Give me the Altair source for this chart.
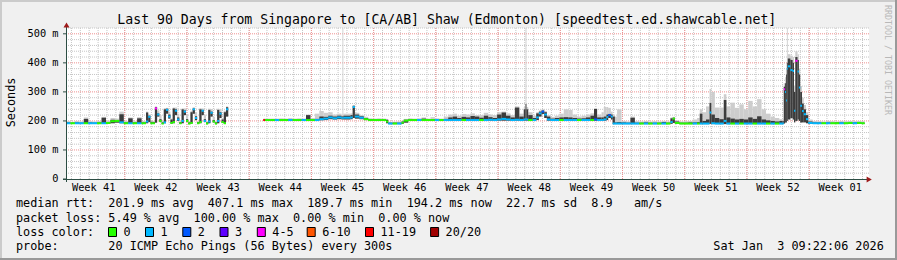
import altair as alt
import pandas as pd

MONO = "DejaVu Sans Mono"

# ---- data (x = days since start of the 90-day window) ----
DAY = [
    0.0, 0.5, 1.0, 1.5, 2.0, 2.5, 3.0, 3.5, 4.0, 4.5, 5.0, 5.5, 6.0, 6.5, 7.0, 7.5, 8.0, 8.5, 9.0, 9.25, 9.5,
    9.75, 10.0, 10.25, 10.5, 10.75, 11.0, 11.25, 11.5, 11.75, 12.0, 12.25, 12.5, 12.75, 13.0, 13.25, 13.5, 13.75,
    14.0, 14.25, 14.5, 14.75, 15.0, 15.25, 15.5, 15.75, 16.0, 16.25, 16.5, 16.75, 17.0, 17.25, 17.5, 17.75, 18.0, 18.25,
    22.2, 22.4, 23.0, 23.5, 24.0, 24.5, 25.0, 25.5, 26.0, 26.5, 27.0, 27.5, 28.0, 28.5,
    29.0, 29.5, 30.0, 30.5, 31.0, 31.1, 31.2, 31.5, 32.0, 32.25, 32.5, 33.0, 33.5,
    34.0, 34.5, 35.0, 35.5, 36.0, 36.25, 36.75, 37.25, 37.75, 38.0,
    38.5, 39.0, 39.5, 40.0, 40.5, 41.0, 41.5, 42.0, 42.5, 43.0, 43.5, 44.0, 44.5, 45.0, 45.5, 46.0, 46.5, 47.0, 47.5, 48.0,
    48.5, 49.0, 49.5, 50.0, 50.5, 51.0, 51.5, 51.7, 51.8, 52.0, 52.5, 52.9, 53.2, 53.5, 53.8, 54.1, 54.5, 55.0, 55.5, 56.0,
    56.5, 57.0, 57.5, 58.0, 58.5, 59.0, 59.4, 59.75, 60.25, 60.5, 60.8, 61.0, 61.3, 61.5, 61.75,
    62.0, 62.5, 63.0, 63.5, 64.0, 64.5, 65.0, 65.5, 66.0, 66.5, 67.0, 67.5, 68.0, 68.25, 68.5, 69.0, 69.5, 70.0, 70.5, 71.0,
    71.3, 71.6, 72.0, 72.4, 72.6, 73.0, 73.5, 74.0, 74.3, 74.75, 75.25, 75.75, 76.25, 76.75, 77.25, 77.75, 78.25, 78.75,
    79.25, 79.75, 80.25,
    80.6, 80.75, 80.9, 81.0, 81.1, 81.2, 81.5, 81.75, 81.9, 82.05, 82.3, 82.45, 82.6, 82.8, 83.0, 83.25, 83.5,
    84.0, 84.5, 85.0, 85.5, 86.0, 86.5, 87.0, 87.5, 88.0, 88.5, 89.0, 89.5, 89.85,
]
MEDIAN = [
    192, 192, 192, 192, 192, 192, 192, 192, 192, 193, 199, 200, 195, 192, 192, 192, 192, 192, 198, 214, 192,
    192, 243, 222, 200, 191, 195, 238, 215, 193, 196, 235, 205, 192, 200, 232, 200, 191,
    193, 240, 210, 192, 196, 235, 200, 191, 198, 228, 198, 191, 200, 225, 196, 192, 240, None,
    203, 203, 203, 203, 203, 203, 203, 203, 203, 203, 203, 203, 203, 206,
    208, 212, 209, 212, 210, 210, 211, 211, 212, 248, 215, 211, 206,
    203, 203, 203, 203, 198, 191, 191, 191, 194, 201,
    203, 203, 203, 203, 203, 203, 203, 203, 203, 203, 203, 203, 203, 203, 203, 203, 203, 203, 204, 203,
    205, 207, 205, 203, 204, 203, 205, 206, 205, 203, 203, 212, 226, 232, 222, 205, 203, 203, 203, 203,
    203, 203, 203, 203, 203, 203, 205, 203, 203, 205, 213, 220, 215, 191, 191,
    191, 191, 191, 191, 191, 191, 191, 191, 191, 191, 191, 191, 196, 208, 193, 191, 191, 191, 191, 191,
    191, 191, 191, 229, 192, 191, 191, 200, 191, 191, 191, 191, 191, 191, 191, 191, 191, 191,
    191, 191, 191,
    191, 309, 300, 270, 380, 388, 375, 372, 235, 407, 370, 315, 252, 234, 223, 206, 193,
    192, 192, 192, 192, 192, 192, 192, 192, 193, 192, 193, 192, None,
]
LOSS = [
    1, 0, 1, 1, 0, 1, 1, 0, 1, 0, 0, 0, 1, 0, 1, 0, 1, 0, 1, 1, 0,
    0, 4, 1, 0, 0, 1, 1, 1, 0, 0, 1, 1, 0, 1, 1, 0, 0,
    0, 1, 1, 0, 0, 1, 1, 0, 1, 1, 0, 0, 1, 1, 0, 0, 1, None,
    6, 0, 0, 1, 0, 0, 1, 0, 0, 1, 0, 0, 1, 1,
    1, 1, 1, 1, 1, 1, 1, 1, 1, 1, 1, 1, 0,
    0, 0, 0, 0, 0, 1, 0, 1, 0, 0,
    0, 0, 1, 0, 0, 0, 1, 0, 1, 1, 1, 1, 0, 1, 1, 1, 0, 1, 1, 1,
    1, 1, 1, 1, 1, 1, 1, 1, 1, 0, 1, 1, 1, 2, 1, 1, 1, 1, 0, 1,
    1, 1, 0, 1, 1, 0, 2, 1, 1, 1, 1, 2, 1, 1, 1,
    1, 1, 1, 1, 1, 0, 1, 0, 1, 0, 1, 0, 1, 0, 0, 0, 0, 0, 1, 0,
    1, 1, 1, 1, 1, 1, 1, 1, 1, 0, 1, 0, 1, 1, 0, 1, 1, 0,
    1, 0, 1,
    1, 4, 1, 1, 1, 1, 1, 1, 1, 4, 1, 1, 1, 1, 1, 1, 1,
    1, 1, 0, 1, 0, 0, 1, 0, 0, 1, 0, 0, None,
]
SMOKE_LO = [
    191, 191, 191, 191, 191, 191, 191, 191, 191, 191, 192, 194, 192, 191, 191, 191, 191, 191, 192, 196, 191,
    190, 194, 215, 197, 190, 192, 225, 208, 191, 192, 220, 200, 190, 192, 220, 197, 189,
    191, 225, 203, 190, 192, 220, 197, 189, 192, 215, 195, 189, 192, 210, 193, 190, 215, None,
    201, 201, 201, 201, 201, 201, 201, 201, 201, 201, 201, 201, 201, 202,
    203, 206, 205, 206, 205, 205, 205, 205, 206, 210, 208, 206, 203,
    201, 201, 201, 201, 192, 189, 189, 189, 190, 194,
    201, 201, 201, 201, 201, 201, 201, 201, 201, 201, 201, 201, 201, 201, 201, 201, 201, 201, 201, 201,
    201, 201, 201, 201, 201, 201, 201, 201, 201, 201, 201, 203, 215, 224, 210, 201, 201, 201, 201, 201,
    201, 201, 201, 201, 201, 201, 201, 201, 201, 201, 203, 210, 205, 189, 189,
    189, 189, 189, 189, 189, 189, 189, 189, 189, 189, 189, 189, 190, 193, 190, 189, 189, 189, 189, 189,
    189, 189, 189, 190, 189, 189, 189, 189, 189, 189, 189, 189, 189, 189, 189, 189, 189, 189,
    189, 189, 189,
    189, 191, 195, 195, 200, 205, 210, 205, 195, 200, 205, 200, 195, 195, 195, 192, 190,
    190, 190, 190, 190, 190, 190, 190, 190, 190, 190, 190, 190, None,
]
SMOKE_HI = [
    195, 194, 195, 194, 207, 195, 194, 195, 211, 196, 204, 203, 223, 195, 209, 195, 209, 195, 229, 218, 197,
    196, 247, 226, 206, 195, 240, 242, 222, 205, 243, 240, 212, 196, 240, 236, 206, 195,
    230, 243, 216, 196, 240, 238, 206, 195, 238, 232, 203, 195, 238, 230, 205, 230, 247, None,
    205, 205, 205, 205, 205, 206, 206, 205, 205, 206, 220, 205, 207, 215,
    214, 218, 215, 218, 216, 216, 218, 218, 220, 252, 222, 216, 210,
    206, 205, 205, 205, 204, 194, 194, 194, 198, 204,
    206, 205, 205, 208, 205, 206, 205, 205, 207, 212, 215, 210, 214, 212, 217, 215, 211, 218, 213, 210,
    222, 229, 218, 212, 246, 215, 240, 258, 240, 220, 210, 226, 232, 236, 230, 215, 208, 210, 212, 213,
    212, 210, 208, 209, 212, 218, 241, 212, 212, 215, 222, 224, 222, 215, 195,
    196, 195, 194, 211, 194, 194, 195, 194, 194, 194, 196, 194, 209, 211, 198, 194, 194, 195, 195, 196,
    225, 200, 205, 262, 222, 210, 206, 272, 212, 208, 205, 207, 205, 212, 207, 216, 205, 202,
    200, 198, 200,
    200, 318, 330, 360, 400, 415, 410, 400, 300, 420, 410, 360, 300, 260, 240, 220, 198,
    195, 195, 194, 195, 194, 195, 195, 194, 195, 195, 195, 194, None,
]
SMOKE_MAX = [
    199, 197, 200, 198, 212, 199, 198, 200, 214, 201, 210, 208, 232, 200, 212, 199, 213, 200, 232, 222, 201,
    200, 250, 236, 220, 200, 244, 245, 232, 208, 246, 246, 225, 200, 243, 243, 222, 199,
    235, 247, 230, 200, 244, 243, 220, 199, 242, 241, 214, 199, 242, 241, 210, 235, 250, None,
    208, 208, 208, 208, 209, 208, 210, 208, 209, 208, 222, 210, 225, 234,
    228, 230, 222, 225, 222, 520, 225, 225, 226, 255, 228, 220, 214,
    209, 208, 209, 208, 207, 197, 197, 198, 201, 207,
    209, 208, 209, 212, 208, 213, 209, 208, 215, 222, 225, 218, 224, 222, 226, 220, 220, 228, 222, 220,
    230, 232, 226, 220, 250, 225, 248, 520, 248, 230, 218, 230, 236, 240, 234, 220, 214, 218, 225, 240,
    238, 222, 215, 218, 222, 226, 244, 222, 230, 248, 248, 245, 232, 220, 215,
    240, 200, 198, 215, 199, 198, 200, 198, 199, 198, 200, 198, 212, 214, 202, 198, 199, 200, 205, 210,
    240, 230, 250, 310, 300, 246, 246, 292, 250, 263, 245, 257, 240, 269, 250, 275, 240, 225,
    215, 210, 206,
    205, 330, 350, 380, 520, 430, 425, 420, 320, 440, 430, 380, 320, 280, 255, 230, 205,
    200, 199, 198, 200, 199, 198, 200, 199, 200, 199, 200, 199, None,
]

LOSS_LABELS = ["0", "1", "2", "3", "4-5", "6-10", "11-19", "20/20"]
LOSS_COLORS = ["#26ff00", "#00b8ff", "#0059ff", "#5e00ff", "#ff00ff", "#ff5500", "#ff0000", "#a10000"]

Y_TICKS = [0, 100, 200, 300, 400, 500]
Y_TICK_LABELS = ["0", "100 m", "200 m", "300 m", "400 m", "500 m"]
Y_MINOR = [v for v in range(20, 521, 20) if v % 100 != 0]
WEEK_LINES = [6.61, 13.61, 20.61, 27.61, 34.61, 41.61, 48.61, 55.61, 62.61, 69.61, 76.61, 83.61]
DAY_LINES = [round(0.61 + k, 2) for k in range(90)]
WEEK_LABEL_DAYS = [3.11, 10.11, 17.11, 24.11, 31.11, 38.11, 45.11, 52.11, 59.11, 66.11, 73.11, 80.11, 87.11]
WEEK_LABELS = ["Week 41", "Week 42", "Week 43", "Week 44", "Week 45", "Week 46", "Week 47",
               "Week 48", "Week 49", "Week 50", "Week 51", "Week 52", "Week 01"]

TITLE = "Last 90 Days from Singapore to [CA/AB] Shaw (Edmonton) [speedtest.ed.shawcable.net]"
Y_TITLE = "Seconds"
STAT_RTT = "median rtt:  201.9 ms avg  407.1 ms max  189.7 ms min  194.2 ms now  22.7 ms sd  8.9   am/s"
STAT_LOSS = "packet loss: 5.49 % avg  100.00 % max  0.00 % min  0.00 % now"
LOSS_TITLE = "loss color:"
PROBE = "probe:       20 ICMP Echo Pings (56 Bytes) every 300s"
STAMP = "Sat Jan  3 09:22:06 2026"
WATERMARK = "RRDTOOL / TOBI OETIKER"

# legend layout (pixel offsets of each swatch from the plot's left edge)
LEGEND_BOX_X = [42.5, 79.5, 116.8, 154.0, 191.3, 241.2, 299.5, 364.6]

assert len({len(a) for a in [DAY, MEDIAN, LOSS, SMOKE_LO, SMOKE_HI, SMOKE_MAX]}) == 1

# ---- per-interval table (each sample covers [t, next t)) ----
seg = pd.DataFrame({
    "t": DAY[:-1],
    "t2": DAY[1:],
    "med": MEDIAN[:-1],
    "loss": [LOSS_LABELS[k] if k is not None else None for k in LOSS[:-1]],
    "lo": SMOKE_LO[:-1],
    "hi": SMOKE_HI[:-1],
    "mx": SMOKE_MAX[:-1],
})

XS = alt.Scale(domain=[0, 90.34], nice=False, zero=False)
YS = alt.Scale(domain=[0, 520], nice=False, zero=False)
CS = alt.Scale(domain=LOSS_LABELS, range=LOSS_COLORS)
AXIS_COLOR = "#2C4D43"
ARROW_COLOR = "#9E1A1A"
ONE = pd.DataFrame({"k": [0]})


def xq(f):
    return alt.X(f, scale=XS, axis=None)


def yq(f):
    return alt.Y(f, scale=YS, axis=None)


grid_x_minor = alt.Chart(pd.DataFrame({"d": DAY_LINES})).mark_rule(
    color="#c6c6c6", strokeDash=[1, 1], strokeWidth=1).encode(x=xq("d:Q"))
grid_y_minor = alt.Chart(pd.DataFrame({"v": Y_MINOR})).mark_rule(
    color="#c6c6c6", strokeDash=[1, 1], strokeWidth=1).encode(y=yq("v:Q"))
grid_x_major = alt.Chart(pd.DataFrame({"d": WEEK_LINES})).mark_rule(
    color="#ee9090", strokeDash=[1, 1], strokeWidth=1).encode(x=xq("d:Q"))
grid_y_major = alt.Chart(pd.DataFrame({"v": Y_TICKS[1:]})).mark_rule(
    color="#ee9090", strokeDash=[1, 1], strokeWidth=1).encode(y=yq("v:Q"))

smoke_light = alt.Chart(seg).mark_rect(color="#cdcdcd").encode(
    x=xq("t:Q"), x2="t2", y=yq("lo:Q"), y2="mx")
smoke_dark = alt.Chart(seg).mark_rect(color="#3c3c3c").encode(
    x=xq("t:Q"), x2="t2", y=yq("lo:Q"), y2="hi")

median = alt.Chart(seg).mark_rule(strokeWidth=2, strokeCap="butt").encode(
    x=xq("t:Q"), x2="t2", y=yq("med:Q"),
    color=alt.Color("loss:N", scale=CS, legend=None),
)

# ---- axis labels and ticks, placed through the same scales ----
week_df = pd.DataFrame({"d": WEEK_LABEL_DAYS, "lab": WEEK_LABELS})
x_labels = alt.Chart(week_df).mark_text(
    font=MONO, fontSize=10.3, color="#000000", align="center", baseline="alphabetic").encode(
    x=xq("d:Q"), y=alt.value(162.5), text="lab:N")

ytick_df = pd.DataFrame({"v": Y_TICKS, "lab": Y_TICK_LABELS})
y_labels = alt.Chart(ytick_df).mark_text(
    font=MONO, fontSize=10.3, color="#000000", align="right", baseline="alphabetic", dy=3.4).encode(
    x=alt.value(-7.5), y=yq("v:Q"), text="lab:N")
y_ticks = alt.Chart(ytick_df).mark_rule(color=AXIS_COLOR, strokeWidth=1).encode(
    x=alt.value(-3), x2=alt.value(0.5), y=yq("v:Q"))

# ---- loss colour legend ----
leg_df = pd.DataFrame({"lab": LOSS_LABELS, "bx": LEGEND_BOX_X})
leg_df["bx2"] = leg_df["bx"] + 8
leg_df["tx"] = leg_df["bx"] + 15
legend_boxes = alt.Chart(leg_df).mark_rect(stroke="#000000", strokeWidth=1).encode(
    x=alt.X("bx:Q", scale=None), x2="bx2", y=alt.value(199.5), y2=alt.value(208.5),
    fill=alt.Fill("lab:N", scale=CS, legend=None))
legend_text = alt.Chart(leg_df).mark_text(
    font=MONO, fontSize=11.8, color="#000000", align="left", baseline="alphabetic").encode(
    x=alt.X("tx:Q", scale=None), y=alt.value(207.7), text="lab:N")


def hline(x1, x2, y, color, w=1):
    return alt.Chart(ONE).mark_rule(color=color, strokeWidth=w).encode(
        x=alt.value(x1), x2=alt.value(x2), y=alt.value(y))


def vline(x, y1, y2, color, w=1):
    return alt.Chart(ONE).mark_rule(color=color, strokeWidth=w).encode(
        x=alt.value(x), y=alt.value(y1), y2=alt.value(y2))


def label(s, x, y, size=11.8, align="left", baseline="alphabetic", angle=0, color="#000000"):
    return alt.Chart(ONE).mark_text(
        text=s.replace(" ", "\u00a0"), font=MONO, fontSize=size, align=align,
        baseline=baseline, angle=angle, color=color).encode(x=alt.value(x), y=alt.value(y))


decor = [
    hline(-66, 831, -27, "#CBCBCB", 2),
    vline(-65, -28, 232, "#CBCBCB", 2),
    hline(-66, 831, 231, "#999999", 2),
    vline(830, -28, 232, "#999999", 2),
    vline(0.5, -3, 154, AXIS_COLOR),
    hline(-3, 802, 151.5, AXIS_COLOR),
    alt.Chart(ONE).mark_point(shape="triangle-up", filled=True, size=36, color=ARROW_COLOR,
                              opacity=1, strokeWidth=0).encode(x=alt.value(0.5), y=alt.value(-3)),
    alt.Chart(ONE).mark_point(shape="triangle-right", filled=True, size=36, color=ARROW_COLOR,
                              opacity=1, strokeWidth=0).encode(x=alt.value(803.2), y=alt.value(151.5)),
    label(TITLE, 380.8, -4.5, size=13.2, align="center"),
    label(Y_TITLE, -55, 74.5, align="center", baseline="middle", angle=270),
    label(STAT_RTT, -50, 179.3),
    label(STAT_LOSS, -50, 193.6),
    label(LOSS_TITLE, -50, 207.7),
    label(PROBE, -50, 222),
    label(STAMP, 647.3, 222),
    label(WATERMARK, 820.7, -23, size=8.3, baseline="middle", angle=90, color="#b8b8b8"),
]

chart = alt.layer(
    grid_x_minor, grid_y_minor, grid_x_major, grid_y_major,
    smoke_light, smoke_dark, median,
    x_labels, y_labels, y_ticks, legend_boxes, legend_text, *decor
).properties(
    width=803, height=151,
    autosize=alt.AutoSizeParams(type="none"),
    padding={"left": 66, "top": 28, "right": 28, "bottom": 81},
    background="#F0F0F0",
).configure_view(stroke=None, fill="#FFFFFF")

chart.save("out.html", embed_options={"renderer": "svg", "actions": False})
